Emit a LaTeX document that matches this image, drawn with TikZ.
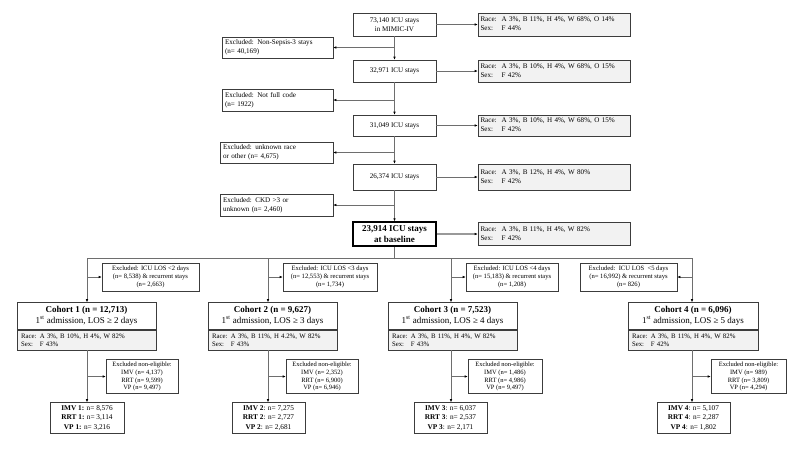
\documentclass[tikz,border=0pt]{standalone}
\usepackage{fontspec}
\setmainfont{Liberation Serif}
\usetikzlibrary{arrows.meta}
\definecolor{lnc}{HTML}{6E6E6E}
\definecolor{bdc}{HTML}{3C3C3C}
\definecolor{fillg}{HTML}{F2F2F2}
\newcommand{\fza}{\fontsize{7.1}{8.6}\selectfont}
\newcommand{\fzb}{\fontsize{6.6}{8.3}\selectfont}
\newcommand{\fzn}{\fontsize{6.5}{7.9}\selectfont}
\newcommand{\fzi}{\fontsize{6.8}{8.2}\selectfont}
\newcommand{\fzm}{\fontsize{7.3}{9.2}\selectfont}
\newcommand{\fzc}{\fontsize{9}{11.2}\selectfont}
\tikzset{
  box/.style={draw=bdc, line width=0.6pt, fill=white, inner sep=0pt, align=center, font=\fza},
  info/.style={box, fill=fillg, align=left, font=\fza},
  ln/.style={draw=lnc, line width=0.8pt},
  arr/.style={ln, -{Latex[length=3pt,width=2.6pt,color=black]}},
}
\begin{document}
\begin{tikzpicture}[x=1pt,y=-1pt]
\path[fill=white] (0,0) rectangle (796,451);
\useasboundingbox (0,0) rectangle (796,451);

% main column
\node[box, minimum width=83pt, minimum height=23pt] (b0) at (394.5,24.5) {73,140 ICU stays\\in MIMIC-IV};
\node[box, minimum width=83pt, minimum height=22pt] (b1) at (394.5,71) {32,971 ICU stays};
\node[box, minimum width=83pt, minimum height=21pt] (b2) at (394.5,125.5) {31,049 ICU stays};
\node[box, minimum width=83pt, minimum height=26pt] (b3) at (394.5,177) {26,374 ICU stays};
\node[box, draw=black, line width=1.5pt, minimum width=83pt, minimum height=24pt, font=\fzc\bfseries] (b4) at (394.5,234) {23,914 ICU stays\\at baseline};

% right info boxes
\newcommand{\rs}[2]{\begin{tabular}{@{}l@{\hspace{5pt}}l@{}}Race: & #1\\ Sex: & #2\end{tabular}}
\node[info, minimum width=152pt, minimum height=23pt, text width=147pt] (r0) at (554,24.5) {\rs{A 3\%, B 11\%, H 4\%, W 68\%, O 14\%}{F 44\%}};
\node[info, minimum width=152pt, minimum height=22pt, text width=147pt] (r1) at (554,71) {\rs{A 3\%, B 10\%, H 4\%, W 68\%, O 15\%}{F 42\%}};
\node[info, minimum width=152pt, minimum height=21pt, text width=147pt] (r2) at (554,125.5) {\rs{A 3\%, B 10\%, H 4\%, W 68\%, O 15\%}{F 42\%}};
\node[info, minimum width=152pt, minimum height=26pt, text width=147pt] (r3) at (554,177) {\rs{A 3\%, B 12\%, H 4\%, W 80\%}{F 42\%}};
\node[info, minimum width=152pt, minimum height=23pt, text width=147pt] (r4) at (554,234) {\rs{A 3\%, B 11\%, H 4\%, W 82\%}{F 42\%}};

% left exclusion boxes
\node[box, align=left, minimum width=111pt, minimum height=21pt, text width=105pt] (e1) at (277.5,47.5) {Excluded: Non-Sepsis-3 stays\\(n= 40,169)};
\node[box, align=left, minimum width=111pt, minimum height=22pt, text width=105pt] (e2) at (277.5,100) {Excluded: Not full code\\(n= 1922)};
\node[box, align=left, minimum width=113pt, minimum height=21pt, text width=107pt] (e3) at (276.5,152.5) {Excluded: unknown race\\or other (n= 4,675)};
\node[box, align=left, minimum width=113pt, minimum height=22pt, text width=107pt] (e4) at (276.5,205) {Excluded: CKD >3 or\\unknown (n= 2,460)};

% main column connectors
\draw[arr] (b0) -- (b1);
\draw[arr] (b1) -- (b2);
\draw[arr] (b2) -- (b3);
\draw[arr] (b3) -- (b4);
\draw[arr] (b0.south |- e1.east) -- (e1.east);
\draw[arr] (b1.south |- e2.east) -- (e2.east);
\draw[arr] (b2.south |- e3.east) -- (e3.east);
\draw[arr] (b3.south |- e4.east) -- (e4.east);
\draw[arr] (b0) -- (r0);
\draw[arr] (b1) -- (r1);
\draw[arr] (b2) -- (r2);
\draw[arr] (b3) -- (r3);
\draw[arr, draw=lnc!70, line width=1.2pt] (b4) -- (r4);

% distribution line
\coordinate (hm) at (394.5,258);
\coordinate (h1) at (87,258);
\coordinate (h2) at (268,258);
\coordinate (h3) at (451,258);
\coordinate (h4) at (692,258);
\draw[ln] (b4) -- (hm);
\draw[ln] (h1) -- (h4);

% LOS exclusion boxes
\node[box, font=\fzb, minimum width=97pt, minimum height=28pt] (l1) at (150.5,277) {Excluded: ICU LOS <2 days\\(n= 8,538) \& recurrent stays\\(n= 2,663)};
\node[box, font=\fzb, minimum width=94pt, minimum height=28pt] (l2) at (330,277) {Excluded: ICU LOS <3 days\\(n= 12,553) \& recurrent stays\\(n= 1,734)};
\node[box, font=\fzb, minimum width=92pt, minimum height=28pt] (l3) at (512,277) {Excluded: ICU LOS <4 days\\(n= 15,183) \& recurrent stays\\(n= 1,208)};
\node[box, font=\fzb, minimum width=97pt, minimum height=28pt] (l4) at (628.5,277) {Excluded:\ \ ICU LOS \ <5 days\\(n= 16,992) \& recurrent stays\\(n= 826)};

% cohort boxes (top + info part)
\newcommand{\cohort}[6]{%
  \node[box, font=\fzc, minimum width=#3pt, minimum height=27pt] (#1t) at (#2,316) {\textbf{#4}\\1\textsuperscript{st} admission, LOS ≥ #5 days};
  \node[info, font=\fzi, minimum width=#3pt, minimum height=20pt, text width=#3pt-8pt, anchor=north] (#1b) at (#1t.south) {#6};
}
\cohort{c1}{86.5}{139}{Cohort 1 (n = 12,713)}{2}{Race: A 3\%, B 10\%, H 4\%, W 82\%\\Sex:\ \ \ F 43\%}
\cohort{c2}{272.5}{129}{Cohort 2 (n = 9,627)}{3}{Race: A 3\%, B 11\%, H 4.2\%, W 82\%\\Sex:\ \ \ F 43\%}
\cohort{c3}{452.5}{129}{Cohort 3 (n = 7,523)}{4}{Race: A 3\%, B 11\%, H 4\%, W 82\%\\Sex:\ \ \ F 43\%}
\cohort{c4}{693}{130}{Cohort 4 (n = 6,096)}{5}{Race: A 3\%, B 11\%, H 4\%, W 82\%\\Sex:\ \ \ F 42\%}

\draw[arr] (h1) -- (h1 |- c1t.north);
\draw[arr] (h2) -- (h2 |- c2t.north);
\draw[arr] (h3) -- (h3 |- c3t.north);
\draw[arr] (h4) -- (h4 |- c4t.north);
\draw[arr] (h1 |- l1.west) -- (l1.west);
\draw[arr] (h2 |- l2.west) -- (l2.west);
\draw[arr] (h3 |- l3.west) -- (l3.west);
\draw[arr] (h4 |- l4.east) -- (l4.east);

% non-eligible exclusion boxes
\node[box, font=\fzn, minimum width=72pt, minimum height=34pt] (n1) at (142,376.5) {Excluded non-eligible:\\IMV (n= 4,137)\\RRT (n= 9,599)\\VP (n= 9,497)};
\node[box, font=\fzn, minimum width=72pt, minimum height=34pt] (n2) at (322,376.5) {Excluded non-eligible:\\IMV (n= 2,352)\\RRT (n= 6,900)\\VP (n= 6,946)};
\node[box, font=\fzn, minimum width=74pt, minimum height=34pt] (n3) at (505,376.5) {Excluded non-eligible:\\IMV (n= 1,486)\\RRT (n= 4,986)\\VP (n= 9,497)};
\node[box, font=\fzn, minimum width=75pt, minimum height=34pt] (n4) at (748.5,376.5) {Excluded non-eligible:\\IMV (n= 989)\\RRT (n= 3,809)\\VP (n= 4,294)};

% final boxes
\node[box, font=\fzm, minimum width=74pt, minimum height=31pt] (m1) at (87,418) {\textbf{IMV 1:} n= 8,576\\\textbf{RRT 1:} n= 3,114\\\textbf{VP 1:} n= 3,216};
\node[box, font=\fzm, minimum width=73pt, minimum height=31pt] (m2) at (268.5,418) {\textbf{IMV 2}: n= 7,275\\\textbf{RRT 2}: n= 2,727\\\textbf{VP 2}: n= 2,681};
\node[box, font=\fzm, minimum width=73pt, minimum height=31pt] (m3) at (450.5,418) {\textbf{IMV 3}: n= 6,037\\\textbf{RRT 3}: n= 2,537\\\textbf{VP 3}: n= 2,171};
\node[box, font=\fzm, minimum width=73pt, minimum height=31pt] (m4) at (693.5,418) {\textbf{IMV 4}: n= 5,107\\\textbf{RRT 4}: n= 2,287\\\textbf{VP 4}: n= 1,802};

\draw[arr] (h1 |- c1b.south) -- (h1 |- m1.north);
\draw[arr] (h2 |- c2b.south) -- (h2 |- m2.north);
\draw[arr] (h3 |- c3b.south) -- (h3 |- m3.north);
\draw[arr] (h4 |- c4b.south) -- (h4 |- m4.north);
\draw[arr] (h1 |- n1.west) -- (n1.west);
\draw[arr] (h2 |- n2.west) -- (n2.west);
\draw[arr] (h3 |- n3.west) -- (n3.west);
\draw[arr] (h4 |- n4.west) -- (n4.west);
\end{tikzpicture}
\end{document}
